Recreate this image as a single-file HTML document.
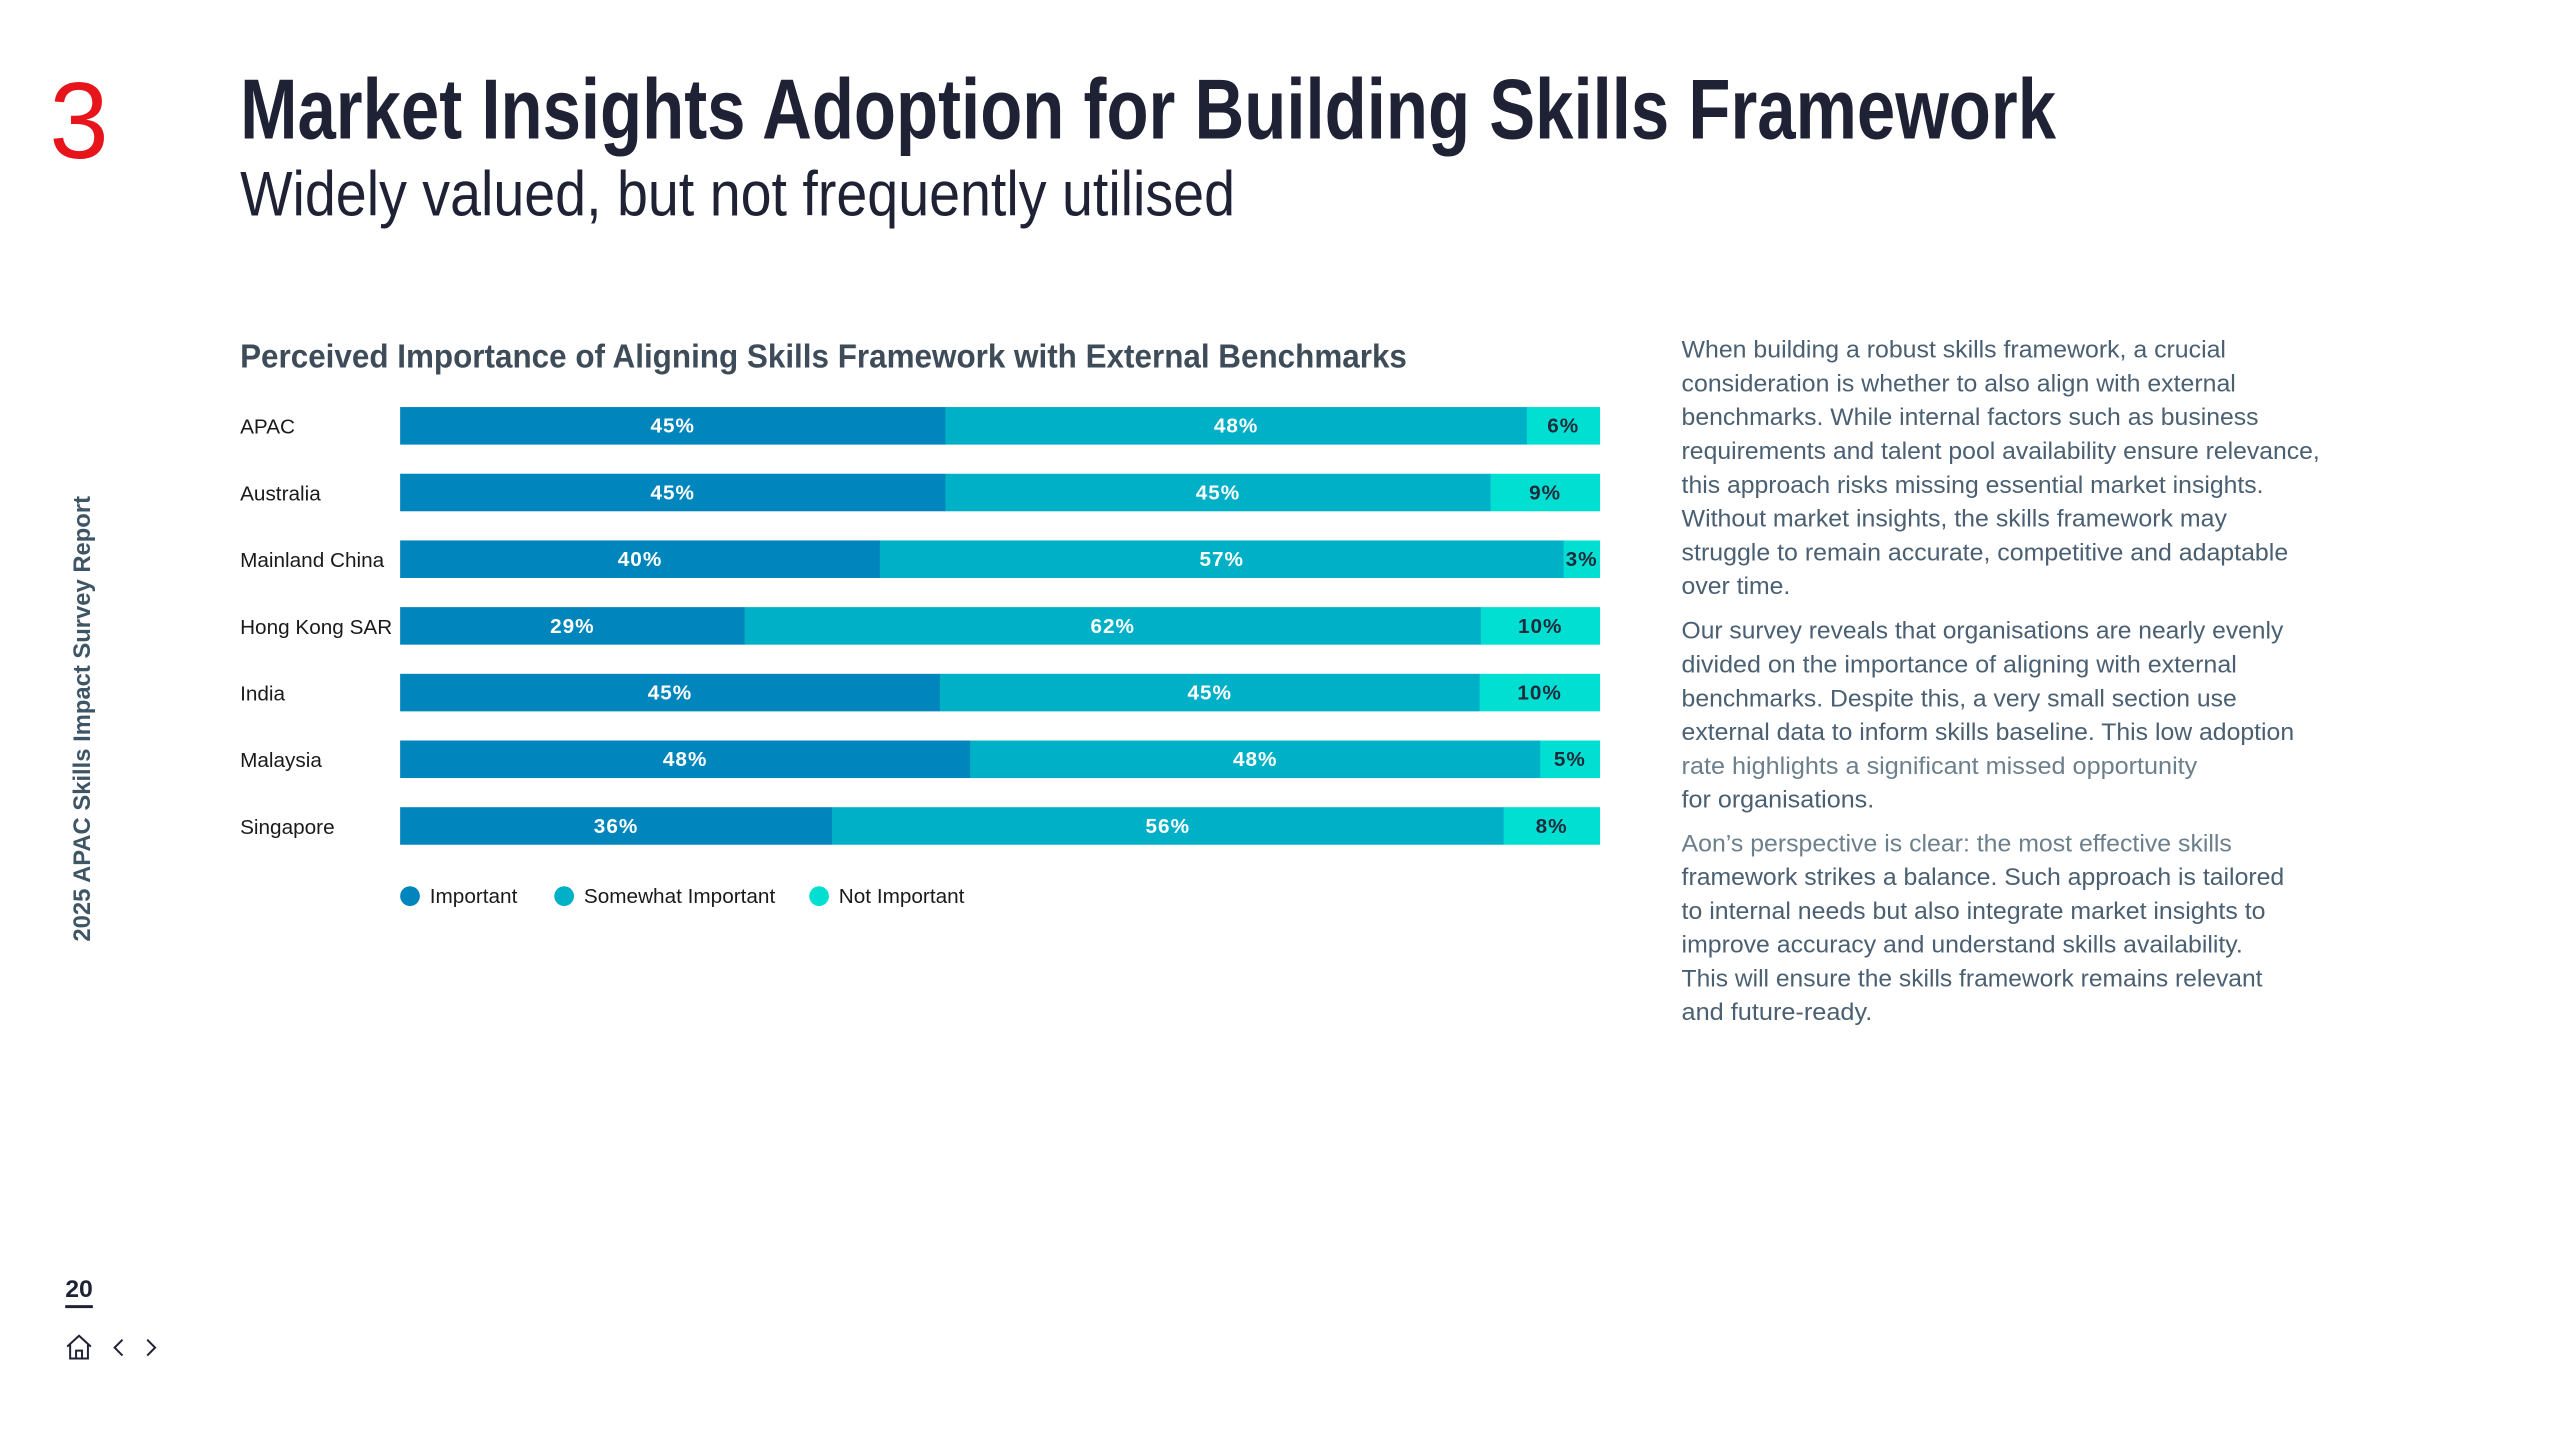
<!DOCTYPE html>
<html><head><meta charset="utf-8"><style>
html,body{margin:0;padding:0;background:#fff;}
svg{display:block;font-family:"Liberation Sans",Arial,sans-serif;}
</style></head><body>
<svg id="page" width="2560" height="1440" viewBox="0 0 2560 1440" xmlns="http://www.w3.org/2000/svg">
<rect width="2560" height="1440" fill="#fff"/>
<g transform="scale(0.988)">
<text x="50" y="160" font-size="110" fill="#e8141c" textLength="60" lengthAdjust="spacingAndGlyphs">3</text>
<text x="243" y="140" font-size="86" font-weight="bold" fill="#1f2235" textLength="1838" lengthAdjust="spacingAndGlyphs">Market Insights Adoption for Building Skills Framework</text>
<text x="243" y="218" font-size="64" fill="#1f2235" textLength="1007" lengthAdjust="spacingAndGlyphs">Widely valued, but not frequently utilised</text>
<text x="243" y="372" font-size="34" font-weight="bold" fill="#3e4c59" textLength="1181" lengthAdjust="spacingAndGlyphs">Perceived Importance of Aligning Skills Framework with External Benchmarks</text>
<g id="chart"></g>
<g id="legend"></g>
<g id="para"></g>
<text transform="translate(91,953) rotate(-90)" font-size="24" font-weight="bold" fill="#3e5566" textLength="451" lengthAdjust="spacingAndGlyphs">2025 APAC Skills Impact Survey Report</text>
<g transform="translate(0,16)">
<text x="66" y="1297" font-size="24" font-weight="bold" fill="#1f2235" textLength="28" lengthAdjust="spacingAndGlyphs">20</text>
<rect x="66" y="1305" width="28" height="3" fill="#1f2235"/>
<g fill="none" stroke="#1f2235" stroke-width="2"><path d="M68 1347 L80 1336 L92 1347 M71 1345 V1359 H89 V1345 M77 1359 V1351 H83 V1359"/></g>
<path d="M124 1340 L116 1348 L124 1356" fill="none" stroke="#1f2235" stroke-width="2"/>
<path d="M149 1340 L157 1348 L149 1356" fill="none" stroke="#1f2235" stroke-width="2"/>
</g>
</g>
</svg>
<script>
const categories = ["APAC","Australia","Mainland China","Hong Kong SAR","India","Malaysia","Singapore"];
const important = [45,45,40,29,45,48,36];
const somewhat = [48,45,57,62,45,48,56];
const notImportant = [6,9,3,10,10,5,8];
const seriesNames = ["Important","Somewhat Important","Not Important"];

const NS="http://www.w3.org/2000/svg";
const colors=["#0086bd","#00b0c6","#00dfd2"];
const labelColors=["#fff","#fff","#1f2a3a"];
const x0=405, plotW=1214, y0=412, step=67.5, barH=38;
function mk(tag,attrs,parent){const e=document.createElementNS(NS,tag);for(const k in attrs)e.setAttribute(k,attrs[k]);parent.appendChild(e);return e;}
function xScale(v,total){return v/total*plotW;}
function yScale(i){return y0+i*step;}
const chart=document.getElementById('chart');
const series=[important,somewhat,notImportant];
categories.forEach((c,i)=>{
  const t=mk('text',{x:243,y:yScale(i)+barH/2+8,'font-size':21,fill:'#1a1a1a'},chart);
  t.textContent=c;
  
  
  const total=important[i]+somewhat[i]+notImportant[i];
  let cx=x0;
  series.forEach((s,j)=>{
    const w=xScale(s[i],total);
    const r=mk('rect',{x:cx,y:yScale(i),width:w+0.5,height:barH,fill:colors[j]},chart);
    
    
    const lb=mk('text',{x:cx+w/2,y:yScale(i)+barH/2+7,'font-size':21,'font-weight':'bold',fill:labelColors[j],'text-anchor':'middle','letter-spacing':1},chart);
    lb.textContent=s[i]+'%';
    
    
    cx+=w;
  });
});
const legend=document.getElementById('legend');
const lx=[415,571,829];
seriesNames.forEach((n,j)=>{
  const c=mk('circle',{cx:lx[j],cy:907,r:10,fill:colors[j]},legend);
  
  
  const t=mk('text',{x:lx[j]+20,y:914,'font-size':21,fill:'#1a1a1a'},legend);
  t.textContent=n;
  
  
});
const paras=[
 {y:354,lines:[["When building a robust skills framework, a crucial",551,0],["consideration is whether to also align with external",561,0],["benchmarks. While internal factors such as business",584,0],["requirements and talent pool availability ensure relevance,",646,0],["this approach risks missing essential market insights.",589,0],["Without market insights, the skills framework may",552,0],["struggle to remain accurate, competitive and adaptable",614,0],["over time.",110,0]]},
 {y:638.5,lines:[["Our survey reveals that organisations are nearly evenly",609,0],["divided on the importance of aligning with external",562,0],["benchmarks. Despite this, a very small section use",562,0],["external data to inform skills baseline. This low adoption",620,0],["rate highlights a significant missed opportunity",522,1],["for organisations.",195,0]]},
 {y:853.6,lines:[["Aon\u2019s perspective is clear: the most effective skills",557,1],["framework strikes a balance. Such approach is tailored",610,0],["to internal needs but also integrate market insights to",591,0],["improve accuracy and understand skills availability.",568,0],["This will ensure the skills framework remains relevant",588,0],["and future-ready.",193,0]]}
];
const para=document.getElementById('para');
paras.forEach(p=>{p.lines.forEach((l,i)=>{
  const t=mk('text',{x:1702,y:p.y+i*34.2+8,'font-size':24,fill:l[2]?'#6c7f8c':'#4a6072',textLength:l[1],lengthAdjust:'spacingAndGlyphs'},para);
  t.textContent=l[0];
  
  
});});
</script>
</body></html>
